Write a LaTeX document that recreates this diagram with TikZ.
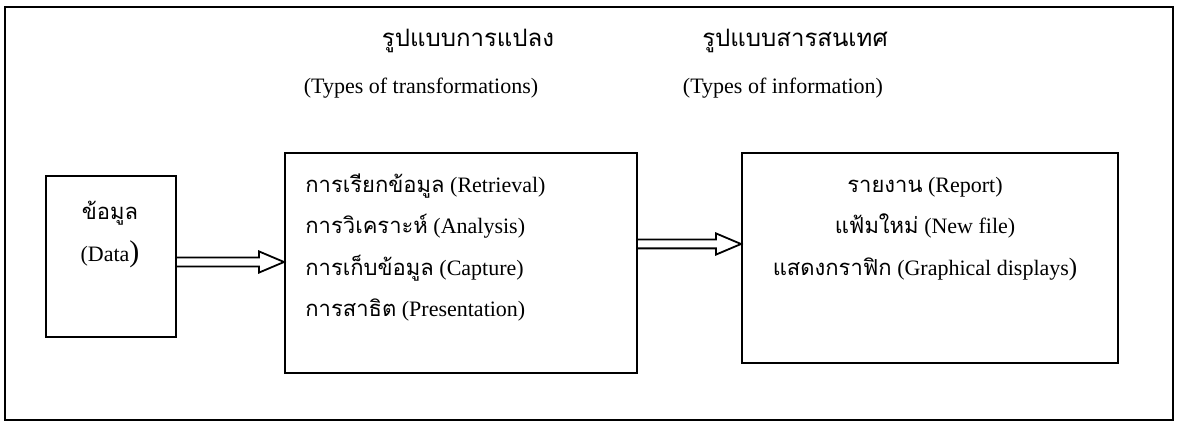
\documentclass[tikz,border=0pt]{standalone}
\usepackage{fontspec}
\setmainfont{Liberation Serif}
\newfontfamily\thai[Script=Thai]{Loma}
\usetikzlibrary{calc}
\tikzset{
  box/.style={draw, line width=1pt, minimum width=#1, inner sep=0pt},
  lbl/.style={inner sep=0pt, font=\fontsize{11}{13}\selectfont},
  bigparen/.style={inner sep=0pt, font=\fontsize{15}{17}\selectfont},
  blockarrow/.style={line width=0.9pt, line join=miter, to path={
    let \p1=(\tikztostart), \p2=(\tikztotarget) in
    (\x1,\y1+2.2pt) -- (\x2-12.5pt,\y1+2.2pt) -- (\x2-12.5pt,\y1+5.3pt) -- (\x2,\y1)
    -- (\x2-12.5pt,\y1-5.3pt) -- (\x2-12.5pt,\y1-2.2pt) -- (\x1,\y1-2.2pt)}}
}
\begin{document}
\begin{tikzpicture}[x=0.5pt,y=-0.5pt]
\useasboundingbox (0,0) rectangle (1177,422);
\draw[line width=0.9pt] (5,7) rectangle (1173,420);
% boxes
\node[box=65pt, minimum height=80.5pt] (data) at (111,256.5) {};
\node[box=176pt, minimum height=110pt] (mid) at (461,263) {};
\node[box=188pt, minimum height=105pt] (info) at (930,258) {};
% titles
\node[lbl, anchor=base, font=\fontsize{12}{14}\selectfont] (t1) at (468,47) {\thai รูปแบบการแปลง};
\node[lbl, anchor=base] (t1e) at (421,94) {(Types of transformations)};
\node[lbl, anchor=base, font=\fontsize{12}{14}\selectfont] (t2) at (795,47) {\thai รูปแบบสารสนเทศ};
\node[lbl, anchor=base] (t2e) at (783,94) {(Types of information)};
% data text
\node[lbl, anchor=base] (d1) at (110,220) {\thai ข้อมูล};
\node[lbl, anchor=base] (d2) at (110,262) {(Data\fontsize{15}{17}\selectfont)};
% middle text
\node[lbl, anchor=base west] (m1) at (305,193) {{\thai การเรียกข้อมูล} (Retrieval)};
\node[lbl, anchor=base west] (m2) at (305,234) {{\thai การวิเคราะห์} (Analysis)};
\node[lbl, anchor=base west] (m3) at (305,275) {{\thai การเก็บข้อมูล} (Capture)};
\node[lbl, anchor=base west] (m4) at (305,316) {{\thai การสาธิต} (Presentation)};
% info text
\node[lbl, anchor=base] (i1) at (925,193) {{\thai รายงาน} (Report)};
\node[lbl, anchor=base] (i2) at (925,234) {{\thai แฟ้มใหม่} (New file)};
\node[lbl, anchor=base] (i3) at (925,275) {{\thai แสดงกราฟิก} (Graphical displays\fontsize{12.5}{14}\selectfont)};
% arrows
\draw[blockarrow] ([yshift=-2.75pt]data.east) to (mid.west);
\draw[blockarrow] ([yshift=9.5pt]mid.east) to (info.west);
\end{tikzpicture}
\end{document}
